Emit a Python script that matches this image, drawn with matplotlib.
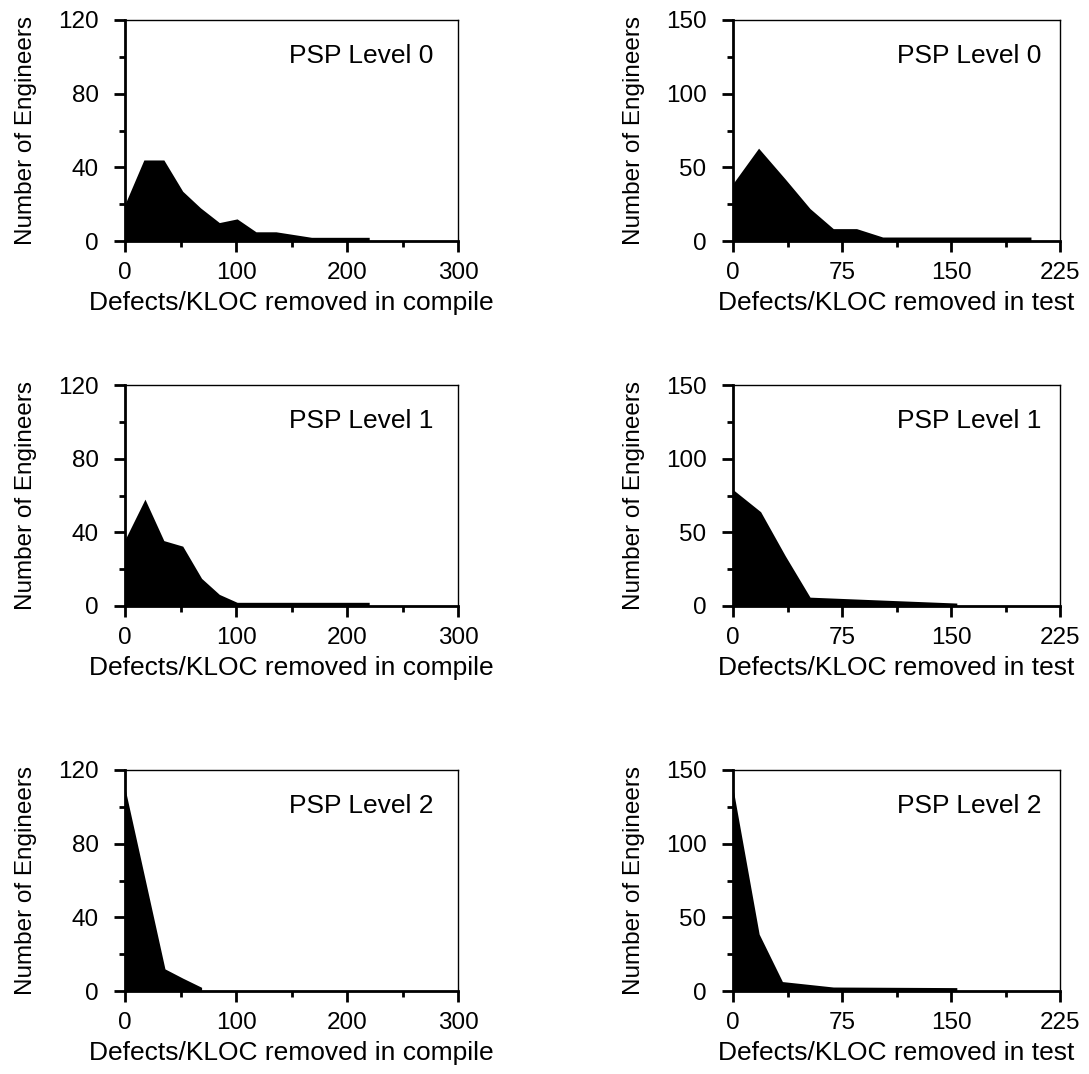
import matplotlib
matplotlib.use("Agg")
import matplotlib.pyplot as plt
from matplotlib.ticker import MultipleLocator

plt.rcParams['font.family'] = ['Liberation Sans', 'DejaVu Sans']

# ---- data ----
levels = ["PSP Level 0", "PSP Level 1", "PSP Level 2"]

compile_x0 = [0, 17, 35, 52, 68, 85, 101, 118, 136, 152, 168, 220]
compile_y0 = [20, 44, 44, 27, 18, 10, 12, 5, 5, 3.5, 2, 2]
compile_x1 = [0, 18, 35, 52, 69, 85, 101, 220]
compile_y1 = [36, 58, 35.5, 32.5, 15, 6.3, 2, 2]
compile_x2 = [0, 36, 52, 69]
compile_y2 = [110, 12, 7, 2]

test_x0 = [0, 17.6, 36, 53, 69, 85, 103, 205]
test_y0 = [39, 63, 42, 22, 8.4, 8.4, 2.7, 2.7]
test_x1 = [0, 19, 36, 53, 103, 154]
test_y1 = [79, 64, 34, 6, 4, 2]
test_x2 = [0, 18, 34, 69, 154]
test_y2 = [137.5, 38.6, 6.4, 2.7, 2.3]

compile_series = [(compile_x0, compile_y0), (compile_x1, compile_y1), (compile_x2, compile_y2)]
test_series = [(test_x0, test_y0), (test_x1, test_y1), (test_x2, test_y2)]

compile_xlabel = "Defects/KLOC removed in compile"
test_xlabel = "Defects/KLOC removed in test"
ylabel = "Number of Engineers"

W, H = 1089, 1074
fig = plt.figure(figsize=(W / 100, H / 100), dpi=100)

col_left = [125 / W, 733 / W]
col_width = [333 / W, 327 / W]
row_top_px = [20, 385, 770]
row_h_px = 221


def style(ax, xmax, xmaj, xmin, ymax, ymaj, ymin):
    ax.set_xlim(0, xmax)
    ax.set_ylim(0, ymax)
    ax.xaxis.set_major_locator(MultipleLocator(xmaj))
    ax.xaxis.set_minor_locator(MultipleLocator(xmin))
    ax.yaxis.set_major_locator(MultipleLocator(ymaj))
    ax.yaxis.set_minor_locator(MultipleLocator(ymin))
    for s in ['left', 'bottom']:
        ax.spines[s].set_linewidth(2.0)
    for s in ['top', 'right']:
        ax.spines[s].set_linewidth(1.0)
    ax.tick_params(which='major', direction='out', length=8, width=2,
                   labelsize=17.5)
    ax.tick_params(which='minor', direction='out', length=4.5, width=2)
    ax.tick_params(axis='y', which='major', pad=11)
    ax.tick_params(axis='x', which='major', pad=7)
    ax.tick_params(top=False, right=False, which='both')
    ax.set_ylabel(ylabel, fontsize=17.5, labelpad=15)


for r in range(3):
    bottom = 1 - (row_top_px[r] + row_h_px) / H
    height = row_h_px / H
    # compile (left)
    ax = fig.add_axes([col_left[0], bottom, col_width[0], height])
    x, y = compile_series[r]
    ax.fill_between(x, y, 0, color='black', linewidth=0)
    style(ax, 300, 100, 50, 120, 40, 20)
    ax.set_xlabel(compile_xlabel, fontsize=19, labelpad=5)
    ax.text(0.925, 0.835, levels[r], transform=ax.transAxes, ha='right',
            va='center', fontsize=19)
    # test (right)
    ax = fig.add_axes([col_left[1], bottom, col_width[1], height])
    x, y = test_series[r]
    ax.fill_between(x, y, 0, color='black', linewidth=0)
    style(ax, 225, 75, 37.5, 150, 50, 25)
    ax.set_xlabel(test_xlabel, fontsize=19, labelpad=5)
    ax.text(0.944, 0.835, levels[r], transform=ax.transAxes, ha='right',
            va='center', fontsize=19)

fig.savefig("out.png", dpi=100)
